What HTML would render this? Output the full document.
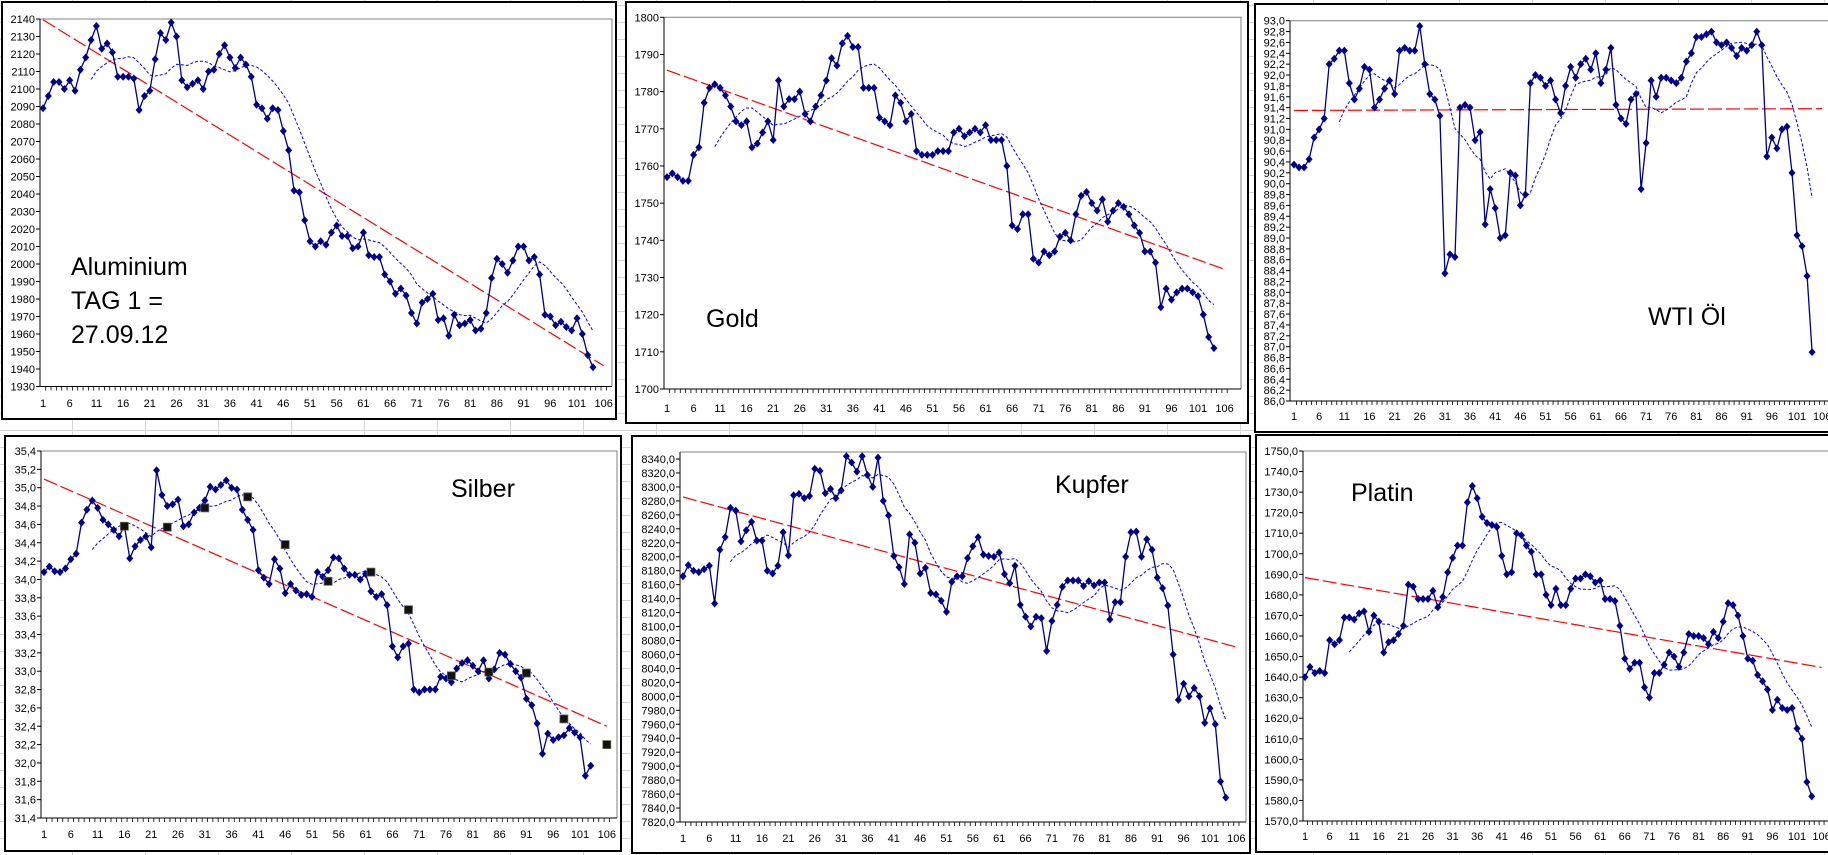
<!DOCTYPE html>
<html><head><meta charset="utf-8">
<style>
html,body{margin:0;padding:0;background:#fff;}
#wrap{position:relative;width:1828px;height:855px;overflow:hidden;
background-color:#fff;
background-image:repeating-linear-gradient(90deg,transparent 0,transparent 72px,#d4d4d4 72px,#d4d4d4 73px),repeating-linear-gradient(0deg,transparent 0,transparent 16px,#d4d4d4 16px,#d4d4d4 17px);}
svg{position:absolute;left:0;top:0;}
text{font-family:"Liberation Sans",sans-serif;}
</style></head>
<body>
<div id="wrap">
<svg id="svg" width="1828" height="855" xmlns="http://www.w3.org/2000/svg"></svg>
</div>
<script>
const alu = [2089,2096,2104,2104,2100,2105,2099,2111,2118,2128,2136,2123,2126,2121,2107,2107,2107,2106,2088,2096,2099,2117,2132,2128,2138,2130,2105,2101,2103,2105,2100,2110,2111,2120,2125,2118,2112,2118,2114,2107,2091,2089,2083,2089,2088,2076,2065,2042,2041,2025,2013,2010,2013,2011,2018,2022,2016,2016,2009,2010,2018,2005,2004,2004,1994,1990,1983,1986,1982,1972,1966,1978,1980,1983,1968,1969,1959,1971,1965,1966,1968,1962,1963,1972,1992,2003,2000,1995,2002,2010,2010,2002,2004,1994,1971,1970,1965,1967,1964,1962,1969,1960,1948,1941];
const gold = [1757,1758,1757,1756,1756,1763,1765,1777,1781,1782,1781,1779,1776,1772,1771,1772,1765,1766,1769,1772,1767,1783,1776,1778,1778,1780,1774,1772,1776,1779,1783,1789,1787,1793,1795,1792,1792,1781,1781,1781,1773,1772,1771,1779,1777,1772,1774,1764,1763,1763,1763,1764,1764,1764,1769,1770,1768,1769,1770,1769,1771,1767,1767,1767,1760,1744,1743,1747,1747,1735,1734,1737,1736,1737,1741,1742,1740,1747,1752,1753,1750,1748,1751,1745,1748,1750,1749,1747,1744,1742,1737,1737,1734,1722,1727,1724,1726,1727,1727,1726,1725,1720,1714,1711];
const wti = [90.35,90.3,90.3,90.45,90.85,91.0,91.2,92.2,92.3,92.45,92.45,91.85,91.55,91.75,92.15,92.1,91.4,91.55,91.75,91.9,91.65,92.45,92.5,92.45,92.45,92.9,92.2,91.65,91.55,91.25,88.35,88.7,88.65,91.4,91.45,91.4,90.8,90.95,89.25,89.9,89.55,89.0,89.05,90.2,90.15,89.6,89.8,91.85,92.0,91.95,91.8,91.9,91.55,91.3,91.8,92.15,91.95,92.2,92.3,92.1,92.4,91.85,92.1,92.5,91.45,91.2,91.1,91.55,91.65,89.9,90.75,91.9,91.6,91.95,91.95,91.9,91.85,91.95,92.25,92.4,92.7,92.7,92.75,92.8,92.6,92.55,92.6,92.5,92.35,92.5,92.45,92.55,92.8,92.55,90.5,90.85,90.65,91.0,91.05,90.2,89.05,88.85,88.3,86.9];
const silber = [34.08,34.14,34.09,34.08,34.12,34.22,34.28,34.62,34.76,34.86,34.78,34.65,34.6,34.54,34.47,34.58,34.23,34.36,34.43,34.47,34.35,35.19,34.92,34.8,34.82,34.87,34.58,34.6,34.73,34.78,34.86,35.01,34.98,35.03,35.08,35.0,34.98,34.76,34.65,34.54,34.1,34.02,33.95,34.22,34.12,33.85,33.95,33.88,33.83,33.84,33.81,34.08,34.03,34.1,34.24,34.23,34.12,34.05,34.05,34.0,34.06,33.87,33.81,33.84,33.72,33.27,33.15,33.27,33.3,32.8,32.77,32.8,32.8,32.8,32.94,32.92,32.88,33.03,33.09,33.12,33.06,33.0,33.12,32.92,33.02,33.2,33.18,33.08,33.0,32.93,32.7,32.63,32.43,32.1,32.32,32.25,32.28,32.3,32.38,32.33,32.28,31.86,31.97];
const silberMarkIdx = [16,24,31,39,46,54,62,69,77,84,91,98,106];
const silberMarkVal = [34.58,34.57,34.78,34.9,34.38,33.98,34.08,33.67,32.95,32.99,32.98,32.48,32.2];
const kupfer = [8172,8188,8180,8178,8182,8187,8133,8210,8228,8270,8266,8222,8238,8250,8223,8223,8180,8176,8187,8235,8202,8288,8290,8284,8287,8326,8323,8291,8297,8284,8295,8344,8335,8322,8344,8317,8300,8342,8280,8259,8201,8185,8161,8232,8220,8176,8184,8148,8146,8137,8121,8164,8172,8172,8198,8215,8228,8203,8201,8200,8206,8175,8162,8187,8131,8114,8100,8114,8112,8065,8108,8131,8157,8166,8166,8166,8158,8165,8159,8163,8163,8110,8135,8135,8200,8235,8236,8200,8225,8210,8170,8155,8130,8060,7995,8018,8000,8012,8000,7962,7983,7960,7878,7855];
const platin = [1640,1645,1642,1643,1642,1658,1656,1658,1669,1669,1668,1671,1672,1662,1670,1667,1652,1657,1658,1661,1665,1685,1684,1678,1678,1678,1682,1674,1679,1691,1698,1704,1704,1725,1733,1727,1718,1715,1714,1713,1699,1690,1691,1710,1709,1704,1701,1690,1690,1680,1675,1683,1675,1675,1683,1688,1688,1690,1689,1686,1687,1678,1678,1677,1665,1649,1644,1647,1647,1635,1630,1642,1642,1646,1652,1650,1645,1652,1661,1660,1660,1659,1656,1662,1659,1667,1676,1675,1670,1660,1649,1648,1641,1638,1634,1624,1629,1625,1624,1625,1615,1610,1589,1582];
const xTickLabels = [1,6,11,16,21,26,31,36,41,46,51,56,61,66,71,76,81,86,91,96,101,106];

const NS='http://www.w3.org/2000/svg';
const svg=document.getElementById('svg');
function el(tag,attrs,parent){const e=document.createElementNS(NS,tag);for(const k in attrs)e.setAttribute(k,attrs[k]);(parent||svg).appendChild(e);return e;}

const charts=[
 {key:'aluminium',data:alu,frame:[2,2,616,419],pl:40,pr:612,pt:19,x1:43,step:5.34,vTop:2140,yTop:19,vBot:1930,yBot:386.5,tick:10,dec:0,labY:403,
  title:['Aluminium','TAG 1 =','27.09.12'],tx:71,ty:275,lh:34},
 {key:'gold',data:gold,frame:[626,2,1248,423],pl:664,pr:1241,pt:17.3,x1:667,step:5.31,vTop:1800,yTop:17.3,vBot:1700,yBot:389,tick:10,dec:0,labY:408,
  title:['Gold'],tx:706,ty:327,lh:34},
 {key:'wti-oel',data:wti,frame:[1255,4,1834,432],pl:1290,pr:1834,pt:20.7,x1:1294,step:5.03,vTop:93,yTop:20.7,vBot:86,yBot:401,tick:0.2,dec:1,labY:416,
  title:['WTI Öl'],tx:1648,ty:325,lh:34},
 {key:'silber',data:silber,frame:[5,436,621,851],pl:41,pr:617,pt:451,x1:44,step:5.36,vTop:35.4,yTop:451,vBot:31.4,yBot:818,tick:0.2,dec:1,labY:834,
  title:['Silber'],tx:451,ty:497,lh:34},
 {key:'kupfer',data:kupfer,frame:[632,436,1250,853],pl:680,pr:1246,pt:452,x1:683,step:5.27,vTop:8340,yTop:459,vBot:7820,yBot:822,tick:20,dec:1,labY:838,
  title:['Kupfer'],tx:1055,ty:493,lh:34},
 {key:'platin',data:platin,frame:[1256,435,1834,852],pl:1303,pr:1834,pt:451,x1:1305,step:4.92,vTop:1750,yTop:451,vBot:1570,yBot:821,tick:10,dec:1,labY:836,
  title:['Platin'],tx:1351,ty:501,lh:34}
];

function fmt(v,d){return v.toFixed(d).replace('.',',');}

charts.forEach(c=>{
  const g=el('g',{});
  
  
  const X=i=>c.x1+(i-1)*c.step;
  const Y=v=>c.yTop+(c.vTop-v)*(c.yBot-c.yTop)/(c.vTop-c.vBot);
  const f=c.frame;
  const fr=el('rect',{x:f[0],y:f[1],width:f[2]-f[0],height:f[3]-f[1],fill:'#fff',stroke:'#000','stroke-width':2},g);
  
  
  // plot area top/right border
  el('polyline',{points:`${c.pl},${c.pt} ${c.pr},${c.pt} ${c.pr},${c.yBot}`,fill:'none',stroke:'#808080','stroke-width':1},g);
  // axes
  const ya=el('line',{x1:c.pl,y1:c.pt,x2:c.pl,y2:c.yBot,stroke:'#000','stroke-width':1},g);
  
  
  const xa=el('line',{x1:c.pl,y1:c.yBot,x2:c.pr,y2:c.yBot,stroke:'#000','stroke-width':1},g);
  
  
  // y ticks
  const n=Math.round((c.vTop-c.vBot)/c.tick);
  for(let k=0;k<=n;k++){
    const v=c.vBot+k*c.tick, y=Y(v);
    el('line',{x1:c.pl-4,y1:y,x2:c.pl,y2:y,stroke:'#000'},g);
    const t=el('text',{x:c.pl-5,y:y+4,'font-size':11,'text-anchor':'end',fill:'#000'},g);
    t.textContent=fmt(v,c.dec);
    
    
  }
  // x ticks
  for(let i=1;i<=106;i++){
    const x=X(i)+c.step/2;
    if(x<=c.pr) el('line',{x1:x,y1:c.yBot,x2:x,y2:c.yBot+4,stroke:'#000','stroke-width':0.8},g);
  }
  xTickLabels.forEach(l=>{
    const t=el('text',{x:X(l),y:c.labY+4,'font-size':11,'text-anchor':'middle',fill:'#000'},g);
    t.textContent=l;
    
    
  });
  const d=c.data;
  // regression trend
  let sx=0,sy=0,sxy=0,sxx=0;const m=d.length;
  d.forEach((v,i)=>{const x=i+1;sx+=x;sy+=v;sxy+=x*v;sxx+=x*x;});
  const b=(m*sxy-sx*sy)/(m*sxx-sx*sx),a=(sy-b*sx)/m;
  const tr=el('line',{x1:X(1),y1:Y(a+b),x2:X(106),y2:Y(a+b*106),stroke:'#ff0000','stroke-width':1.2,'stroke-dasharray':'14,4'},g);
  
  
  // moving average
  const ma=[];
  for(let i=9;i<m;i++){let s=0;for(let j=i-9;j<=i;j++)s+=d[j];ma.push(`${X(i+1).toFixed(1)},${Y(s/10).toFixed(1)}`);}
  const mal=el('polyline',{points:ma.join(' '),fill:'none',stroke:'#0000ff','stroke-width':1,'stroke-dasharray':'3,2'},g);
  
  
  // series line
  const pl=el('polyline',{points:d.map((v,i)=>`${X(i+1).toFixed(1)},${Y(v).toFixed(1)}`).join(' '),fill:'none',stroke:'#000080','stroke-width':1.3},g);
  
  
  d.forEach((v,i)=>{
    const x=X(i+1),y=Y(v);
    const p=el('polygon',{points:`${x},${y-4} ${x+3.5},${y} ${x},${y+4} ${x-3.5},${y}`,fill:'#000090'},g);
    
    
  });
  if(c.key==='silber'){
    silberMarkIdx.forEach((ix,k)=>{
      const x=X(ix),y=Y(silberMarkVal[k]);
      const r=el('rect',{x:x-4,y:y-4,width:8,height:8,fill:'#111',stroke:'#665',"stroke-width":0.8},g);
      
      
    });
  }
  c.title.forEach((s,k)=>{
    const t=el('text',{x:c.tx,y:c.ty+k*c.lh,'font-size':25,fill:'#000'},g);
    t.textContent=s;
    
    
  });
});
</script>
</body></html>
